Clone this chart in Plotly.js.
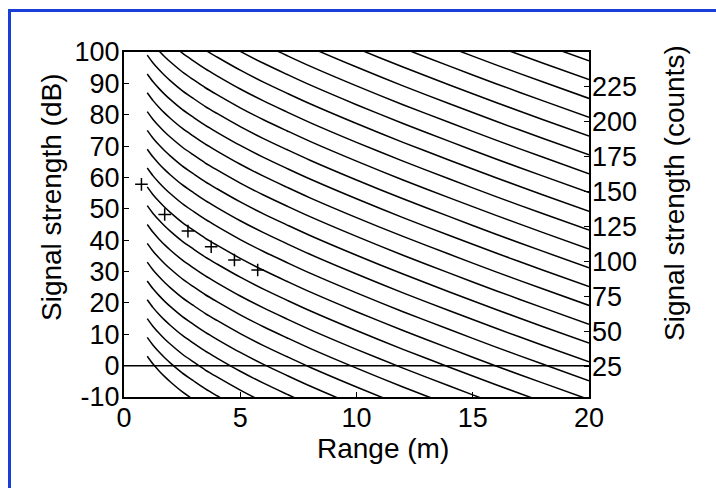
<!DOCTYPE html>
<html><head><meta charset="utf-8">
<script src="https://cdn.plot.ly/plotly-3.0.1.min.js"></script>
<style>html,body{margin:0;padding:0;background:#fff;}#chart{width:716px;height:488px;}</style>
</head><body><div id="chart"></div>
<script>
// Range samples (m) and drop of each model curve relative to its level at 1 m (dB)
const rangeM = [1, 1.25, 1.5, 1.75, 2, 2.5, 3, 3.5, 4, 5, 6, 7, 8, 10, 12, 14, 16, 18, 20];
const curveDrop = [0, -2.5, -4.6, -6.5, -8.2, -11.3, -13.9, -16.4, -18.6, -22.8, -26.6, -30.1, -33.5, -39.8, -45.8, -51.5, -57.1, -62.5, -67.8];
// Level of each curve at 1 m (dB)
const curveStartDb = [3, 9, 15, 21, 27, 33, 39, 45, 51, 57, 63, 69, 75, 81, 87, 93, 99, 105, 111, 117, 123, 129, 135, 141, 147, 153, 159, 165];
// Measured points (+)
const measRange = [0.75, 1.75, 2.75, 3.75, 4.75, 5.75];
const measDb = [57.8, 48.2, 42.9, 37.9, 33.7, 30.5];
// 0 dB reference line
const zeroLineX = [0, 20];
const zeroLineY = [0, 0];
// Ticks
const xTicks = [0, 5, 10, 15, 20];
const dbTicks = [-10, 0, 10, 20, 30, 40, 50, 60, 70, 80, 90, 100];
const countTicks = [25, 50, 75, 100, 125, 150, 175, 200, 225];

const FONT = '"Liberation Sans", Arial, sans-serif';
const traces = [];
curveStartDb.forEach(function (c) {
  traces.push({
    x: rangeM, y: curveDrop.map(function (d) { return c + d; }),
    type: 'scatter', mode: 'lines',
    line: {color: '#000', width: 1.5, shape: 'spline', smoothing: 0.8},
    hoverinfo: 'skip', showlegend: false
  });
});
traces.push({x: zeroLineX, y: zeroLineY, type: 'scatter', mode: 'lines',
  line: {color: '#000', width: 1.5}, showlegend: false});
traces.push({x: measRange, y: measDb, type: 'scatter', mode: 'markers',
  marker: {symbol: 'cross-thin', size: 9, line: {color: '#000', width: 1.5}, color: '#000'},
  showlegend: false});
// dummy trace to activate right axis
traces.push({x: [null], y: [null], yaxis: 'y2', type: 'scatter', mode: 'lines', showlegend: false});

const px2x = function (p) { return (p - 124) / 465; };
const px2y = function (p) { return (397 - p) / 345; };

const layout = {
  width: 716, height: 488,
  margin: {l: 124, r: 127, t: 52, b: 91},
  paper_bgcolor: '#fff', plot_bgcolor: '#fff',
  font: {family: FONT, color: '#000', size: 27},
  showlegend: false,
  xaxis: {range: [0, 20], tickvals: xTicks, ticktext: xTicks.map(String),
    ticks: 'inside', ticklen: 5, tickwidth: 1, tickcolor: '#000', ticklabelstandoff: -4,
    showline: true, linecolor: '#000', linewidth: 2, mirror: true,
    showgrid: false, zeroline: false, tickfont: {size: 27}},
  yaxis: {range: [-10, 100], tickvals: dbTicks, ticktext: dbTicks.map(String),
    ticks: 'inside', ticklen: 5, tickwidth: 1, tickcolor: '#000', ticklabelstandoff: -3,
    showline: true, linecolor: '#000', linewidth: 2, mirror: true,
    showgrid: false, zeroline: false, tickfont: {size: 27}},
  yaxis2: {overlaying: 'y', side: 'right', range: [3.5, 249.5],
    tickvals: countTicks, ticktext: countTicks.map(String),
    ticks: 'inside', ticklen: 5, tickwidth: 1, tickcolor: '#000', ticklabelstandoff: 2,
    showline: false, showgrid: false, zeroline: false, tickfont: {size: 27}},
  annotations: [
    {text: 'Range (m)', xref: 'paper', yref: 'paper', x: px2x(383), y: px2y(448),
      xanchor: 'center', yanchor: 'middle', showarrow: false, font: {size: 28}},
    {text: 'Signal strength (dB)', xref: 'paper', yref: 'paper', x: px2x(51), y: px2y(198),
      xanchor: 'center', yanchor: 'middle', textangle: -90, showarrow: false, font: {size: 28}},
    {text: 'Signal strength (counts)', xref: 'paper', yref: 'paper', x: px2x(674), y: px2y(193),
      xanchor: 'center', yanchor: 'middle', textangle: -90, showarrow: false, font: {size: 28}}
  ],
  shapes: [
    {type: 'line', xref: 'paper', yref: 'paper', x0: px2x(9.5), x1: px2x(9.5), y0: px2y(10.5), y1: px2y(500),
      line: {color: '#1a3fd8', width: 3}},
    {type: 'line', xref: 'paper', yref: 'paper', x0: px2x(8), x1: px2x(720), y0: px2y(10.5), y1: px2y(10.5),
      line: {color: '#1a3fd8', width: 3}}
  ]
};
Plotly.newPlot('chart', traces, layout, {displayModeBar: false, staticPlot: true});
</script></body></html>
